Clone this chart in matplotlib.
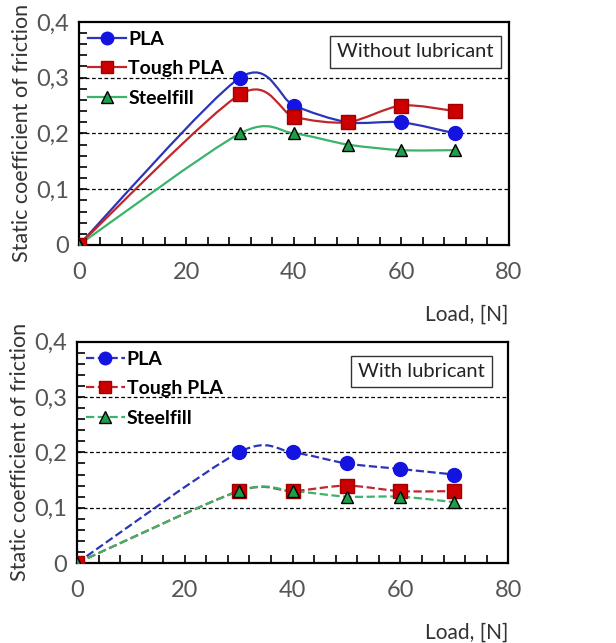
import matplotlib
matplotlib.use("Agg")
import matplotlib.pyplot as plt
from matplotlib.path import Path
from matplotlib.patches import PathPatch
from matplotlib.lines import Line2D
from matplotlib.ticker import MultipleLocator, FuncFormatter

plt.rcParams['font.family'] = ['Lato', 'DejaVu Sans']

load = [0, 30, 40, 50, 60, 70]

# without lubricant
pla_dry = [0, 0.30, 0.25, 0.22, 0.22, 0.20]
tough_dry = [0, 0.27, 0.23, 0.22, 0.25, 0.24]
steel_dry = [0, 0.20, 0.20, 0.18, 0.17, 0.17]

# with lubricant
pla_lub = [0, 0.20, 0.20, 0.18, 0.17, 0.16]
tough_lub = [0, 0.13, 0.13, 0.14, 0.13, 0.13]
steel_lub = [0, 0.13, 0.13, 0.12, 0.12, 0.11]

names = ['PLA', 'Tough PLA', 'Steelfill']
line_cols = ['#2b35b8', '#c0262a', '#3bb36a']
face_cols = ['#1414e0', '#cc0000', '#1e9e4a']
edge_cols = ['#1414e0', '#a00000', '#000000']
markers = ['o', 's', '^']
msizes = [10, 10, 9]


def smooth_path(x, y, k=0.14):
    # excel-like smoothed line: catmull-rom as cubic bezier
    pts = list(zip(x, y))
    n = len(pts)
    verts = [pts[0]]
    codes = [Path.MOVETO]
    for i in range(n - 1):
        p0 = pts[i - 1] if i > 0 else pts[i]
        p1 = pts[i]
        p2 = pts[i + 1]
        p3 = pts[i + 2] if i + 2 < n else pts[i + 1]
        c1 = (p1[0] + (p2[0] - p0[0]) * k, p1[1] + (p2[1] - p0[1]) * k)
        c2 = (p2[0] - (p3[0] - p1[0]) * k, p2[1] - (p3[1] - p1[1]) * k)
        verts += [c1, c2, p2]
        codes += [Path.CURVE4] * 3
    return Path(verts, codes)


def fmt(v, pos):
    if abs(v) < 1e-9:
        return '0'
    return ('%.1f' % v).replace('.', ',')


def draw_panel(ax, series, ls, tag, box_x):
    for yy, name, lc, fc, ec, mk, ms in zip(series, names, line_cols, face_cols,
                                            edge_cols, markers, msizes):
        ax.add_patch(PathPatch(smooth_path(load, yy), fill=False, ec=lc,
                               lw=1.6, ls=ls, zorder=3))
        ax.plot(load, yy, ls='none', marker=mk, ms=ms, mfc=fc, mec=ec,
                mew=1.0, zorder=4)

    for g in [0.1, 0.2, 0.3]:
        ax.axhline(g, color='black', lw=0.9, ls=(0, (3, 2)), zorder=1)

    ax.set_xlim(0, 80)
    ax.set_ylim(0, 0.4)
    ax.xaxis.set_major_locator(MultipleLocator(20))
    ax.xaxis.set_minor_locator(MultipleLocator(4))
    ax.yaxis.set_major_locator(MultipleLocator(0.1))
    ax.yaxis.set_minor_locator(MultipleLocator(0.02))
    ax.yaxis.set_major_formatter(FuncFormatter(fmt))
    ax.tick_params(which='both', direction='in', top=False, right=False,
                   labelsize=17, labelcolor='#555555', width=1.2)
    ax.tick_params(axis='x', which='both', length=6, pad=12)
    ax.tick_params(axis='y', which='both', length=6, pad=7)
    for s in ax.spines.values():
        s.set_linewidth(1.6)
    ax.set_ylabel('Static coefficient of friction', fontsize=15.5,
                  color='#333333', labelpad=3)
    ax.set_xlabel('Load, [N]', fontsize=15, color='#333333', loc='right',
                  labelpad=16)

    handles = [Line2D([], [], color=lc, ls=ls, lw=1.6, marker=mk, ms=ms - 1,
                      mfc=fc, mec=ec)
               for lc, fc, ec, mk, ms in zip(line_cols, face_cols, edge_cols,
                                             markers, msizes)]
    ax.legend(handles, names, loc='upper left', frameon=False,
              handlelength=2.0, handletextpad=0.1, labelspacing=0.65,
              borderaxespad=0.15, borderpad=0.3,
              prop={'weight': 'bold', 'size': 14})
    ax.text(box_x, 0.865, tag, transform=ax.transAxes, ha='right', va='center',
            fontsize=14.5, color='#222222',
            bbox=dict(boxstyle='square,pad=0.35', fc='white', ec='#333333', lw=1))


fig = plt.figure(figsize=(6.16, 6.43), dpi=100)
ax1 = fig.add_axes([0.128, 0.619, 0.698, 0.347])
ax2 = fig.add_axes([0.125, 0.1244, 0.700, 0.344])

draw_panel(ax1, [pla_dry, tough_dry, steel_dry], '-', 'Without lubricant', 0.965)
draw_panel(ax2, [pla_lub, tough_lub, steel_lub], '--', 'With lubricant', 0.945)

fig.savefig('out.png', dpi=100)
